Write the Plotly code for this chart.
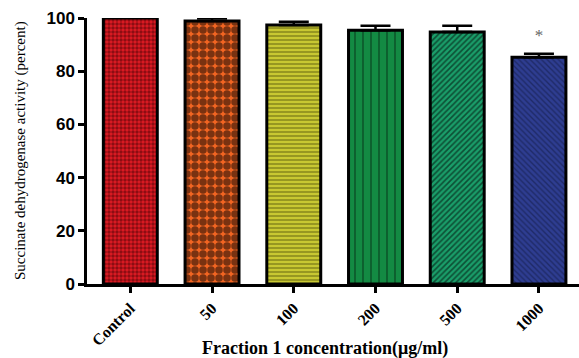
import plotly.graph_objects as go

categories = ["Control", "50", "100", "200", "500", "1000"]
values = [100.0, 98.9, 97.4, 95.4, 94.7, 85.2]
errors = [0.0, 1.0, 1.2, 1.7, 2.4, 1.4]
bg_colors = ["#e01b24", "#f26522", "#c8c832", "#138a43", "#1a9e6a", "#2e3d91"]
fg_colors = ["#3a0000", "#000000", "#3a3a00", "#000000", "#000000", "#101840"]
shapes = [".", ".", "-", "|", "/", "\\"]
sizes = [4, 8, 4, 8, 4, 4]
solid = [0.6, 0.7, 0.35, 0.15, 0.4, 0.35]
star_label = "*"
x_title = "Fraction 1 concentration(μg/ml)"
y_title = "Succinate dehydrogenase activity (percent)"

xs = list(range(len(categories)))

fig = go.Figure()
for i in xs:
    fig.add_trace(go.Bar(
        x=[xs[i]], y=[values[i]], width=0.66,
        marker=dict(
            color=bg_colors[i],
            line=dict(color="black", width=3),
            pattern=dict(shape=shapes[i], fgcolor=fg_colors[i], bgcolor=bg_colors[i],
                         size=sizes[i], solidity=solid[i], fillmode="overlay"),
        ),
        error_y=dict(type="data", symmetric=False, array=[errors[i]], arrayminus=[0],
                     color="black", thickness=2.5, width=15,
                     visible=errors[i] > 0),
        showlegend=False,
    ))

fig.add_trace(go.Scatter(
    x=[xs[-1]], y=[values[-1] + errors[-1] + 6.5], mode="text", text=[star_label],
    textposition="middle center",
    textfont=dict(family="Liberation Serif", size=17, color="#666666"),
    showlegend=False,
))

fig.add_annotation(text=x_title, xref="paper", yref="paper", x=0.484, y=0,
                   yshift=-64, xanchor="center", yanchor="middle", showarrow=False,
                   font=dict(family="Liberation Serif", size=18, color="black", weight="bold"))
fig.add_annotation(text=y_title, xref="paper", yref="paper", x=0, y=0.5,
                   xshift=-67, xanchor="center", yanchor="middle", textangle=-90,
                   showarrow=False,
                   font=dict(family="Liberation Serif", size=15, color="black"))

fig.update_layout(
    width=579, height=358,
    margin=dict(l=87, r=0, t=18, b=74),
    plot_bgcolor="white", paper_bgcolor="white",
    xaxis=dict(
        range=[-0.53, 5.49], tickmode="array", tickvals=xs, ticktext=categories,
        tickangle=-45, ticks="outside", ticklen=6, tickwidth=2.5, tickcolor="black",
        showline=True, linecolor="black", linewidth=2.5, showgrid=False, zeroline=False,
        automargin=False,
        tickfont=dict(family="Liberation Serif", size=16, color="black", weight="bold"),
    ),
    yaxis=dict(
        range=[0, 100], tickvals=[0, 20, 40, 60, 80, 100],
        ticks="outside", ticklen=6, tickwidth=2.5, tickcolor="black",
        showline=True, linecolor="black", linewidth=2.5, showgrid=False, zeroline=False,
        automargin=False,
        tickfont=dict(family="Liberation Sans", size=17, color="black", weight="bold"),
    ),
)

fig.write_html("out.html")
